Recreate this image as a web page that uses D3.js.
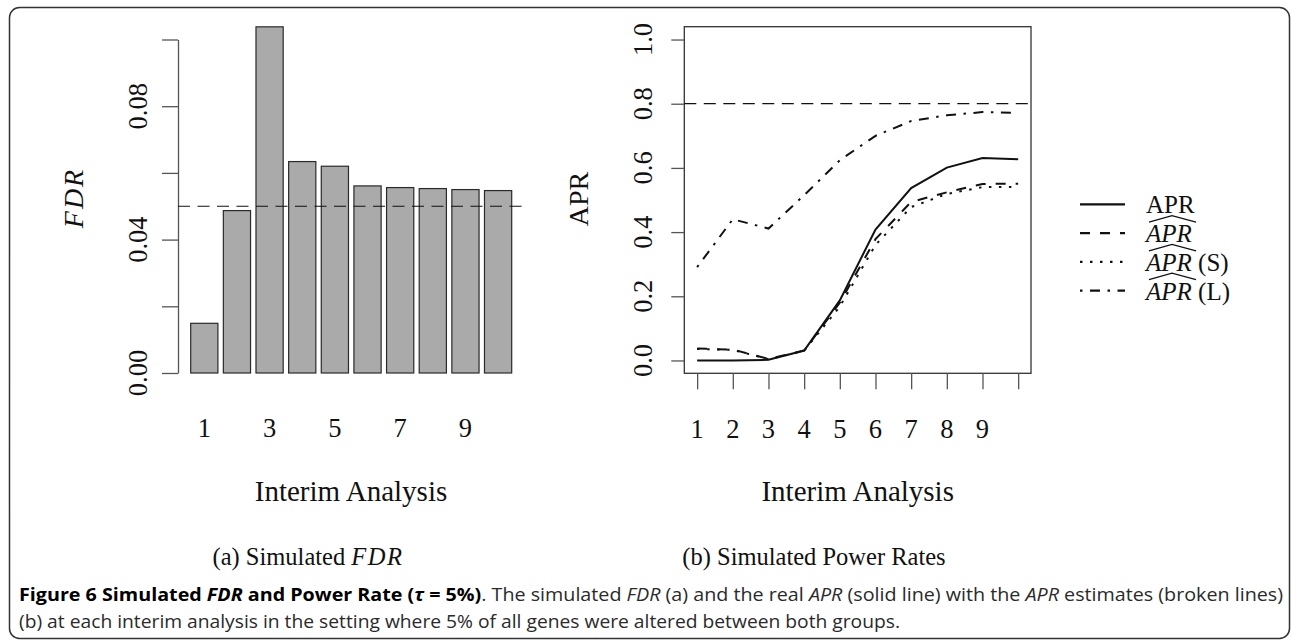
<!DOCTYPE html>
<html>
<head>
<meta charset="utf-8">
<script src="https://cdn.jsdelivr.net/npm/d3@7"></script>
<style>
    body { margin: 0; background: white; }
    svg { display: block; }
    .rtext { font-family: "Liberation Serif", "Times New Roman", serif; fill: #111; }
    .cap { font-family: "Open Sans", sans-serif; fill: #2a2a2a; font-size: 18.5px; }
</style>
</head>
<body>
<script>

    // data
    var interims = [1, 2, 3, 4, 5, 6, 7, 8, 9, 10];
    var fdr = [0.0149, 0.0487, 0.1038, 0.0634, 0.0620, 0.0561, 0.0556, 0.0553, 0.0550, 0.0547];
    var fdrTicks = [0, 0.02, 0.04, 0.06, 0.08, 0.10];
    var fdrTickLabels = ["0.00", "", "0.04", "", "0.08", ""];
    var fdrXLabels = ["1", "", "3", "", "5", "", "7", "", "9", ""];

    var aprReal = [0.000, 0.000, 0.002, 0.031, 0.187, 0.408, 0.537, 0.601, 0.631, 0.627];
    var aprHat  = [0.037, 0.034, 0.005, 0.031, 0.180, 0.378, 0.494, 0.524, 0.550, 0.551];
    var aprHatS = [0.036, 0.033, 0.004, 0.030, 0.168, 0.360, 0.478, 0.519, 0.540, 0.541];
    var aprHatL = [0.291, 0.440, 0.411, 0.515, 0.624, 0.700, 0.746, 0.764, 0.774, 0.771];
    var aprTicks = [0, 0.2, 0.4, 0.6, 0.8, 1.0];
    var aprXLabels = ["1", "2", "3", "4", "5", "6", "7", "8", "9", ""];

    var fdrTarget = 0.05, aprTarget = 0.8;

    var width = 1292, height = 640;

    var svg = d3.select("body").append("svg")
        .attr("width", width)
        .attr("height", height);

    // outer frame
    svg.append("rect")
        .attr("x", 9.5).attr("y", 7.5)
        .attr("width", 1280).attr("height", 631)
        .attr("rx", 10)
        .attr("fill", "none")
        .attr("stroke", "#333")
        .attr("stroke-width", 1.5);

    // ---------- (a) FDR bar chart ----------
    var xBar = d3.scaleBand().domain(interims).range([190.7, 511.7]).paddingInner(1 / 6).paddingOuter(0);
    var yFdr = d3.scaleLinear().domain([0, 0.1]).range([373, 39.5]);

    var gA = svg.append("g");

    gA.selectAll("rect.bar")
      .data(fdr)
      .enter().append("rect")
      .attr("class", "bar")
      .attr("x", (d, i) => xBar(interims[i]))
      .attr("width", xBar.bandwidth())
      .attr("y", d => yFdr(d))
      .attr("height", d => yFdr(0) - yFdr(d))
      .attr("fill", "#aaaaaa")
      .attr("stroke", "#2a2a2a")
      .attr("stroke-width", 1.2);

    var axA = gA.append("g")
        .attr("transform", "translate(178,0)")
        .call(d3.axisLeft(yFdr).tickValues(fdrTicks).tickSize(16).tickSizeOuter(0).tickFormat(""));
    axA.selectAll("path, line").attr("stroke", "#555").attr("stroke-width", 1.3);

    gA.selectAll("text.ytick")
      .data(fdrTicks)
      .enter().append("text")
      .attr("class", "rtext")
      .attr("transform", d => `translate(147,${yFdr(d)}) rotate(-90)`)
      .attr("text-anchor", "middle")
      .style("font-size", "26.5px")
      .text((d, i) => fdrTickLabels[i]);

    gA.selectAll("text.xtick")
      .data(interims)
      .enter().append("text")
      .attr("class", "rtext")
      .attr("x", d => xBar(d) + xBar.bandwidth() / 2)
      .attr("y", 437)
      .attr("text-anchor", "middle")
      .style("font-size", "26.5px")
      .text((d, i) => fdrXLabels[i]);

    gA.append("line")
      .attr("x1", 178).attr("x2", 524.5)
      .attr("y1", yFdr(fdrTarget)).attr("y2", yFdr(fdrTarget))
      .attr("stroke", "#111").attr("stroke-width", 1.2)
      .attr("stroke-dasharray", "12,7.5");

    gA.append("text")
      .attr("class", "rtext")
      .attr("transform", "translate(83,198) rotate(-90)")
      .attr("text-anchor", "middle")
      .style("font-size", "28px").style("font-style", "italic").style("letter-spacing", "2px")
      .text("FDR");

    gA.append("text")
      .attr("class", "rtext")
      .attr("x", 351).attr("y", 500.5)
      .attr("text-anchor", "middle")
      .style("font-size", "29px")
      .text("Interim Analysis");

    var subA = gA.append("text")
      .attr("class", "rtext")
      .attr("x", 308).attr("y", 565)
      .attr("text-anchor", "middle")
      .style("font-size", "24.5px");
    subA.append("tspan").text("(a) Simulated ");
    subA.append("tspan").style("font-style", "italic").style("letter-spacing", "1.5px").text("FDR");

    // ---------- (b) power rates ----------
    var xApr = d3.scaleLinear().domain([0.64, 10.36]).range([684.3, 1031]);
    var yApr = d3.scaleLinear().domain([-0.04, 1.04]).range([373.3, 26.7]);

    var gB = svg.append("g");

    gB.append("rect")
      .attr("x", xApr.range()[0]).attr("y", yApr.range()[1])
      .attr("width", xApr.range()[1] - xApr.range()[0])
      .attr("height", yApr.range()[0] - yApr.range()[1])
      .attr("fill", "none").attr("stroke", "#333").attr("stroke-width", 1.3);

    var axBy = gB.append("g")
        .attr("transform", `translate(${xApr.range()[0]},0)`)
        .call(d3.axisLeft(yApr).tickValues(aprTicks).tickSize(13).tickSizeOuter(0).tickFormat(""));
    axBy.select("path").remove();
    axBy.selectAll("line").attr("stroke", "#555").attr("stroke-width", 1.3);

    var axBx = gB.append("g")
        .attr("transform", `translate(0,${yApr.range()[0]})`)
        .call(d3.axisBottom(xApr).tickValues(interims).tickSize(16).tickSizeOuter(0).tickFormat(""));
    axBx.select("path").remove();
    axBx.selectAll("line").attr("stroke", "#555").attr("stroke-width", 1.3);

    gB.selectAll("text.ytick")
      .data(aprTicks)
      .enter().append("text")
      .attr("class", "rtext")
      .attr("transform", d => `translate(652,${yApr(d)}) rotate(-90)`)
      .attr("text-anchor", "middle")
      .style("font-size", "26.5px")
      .text(d => d.toFixed(1));

    gB.selectAll("text.xtick")
      .data(interims)
      .enter().append("text")
      .attr("class", "rtext")
      .attr("x", d => xApr(d))
      .attr("y", 437.5)
      .attr("text-anchor", "middle")
      .style("font-size", "26.5px")
      .text((d, i) => aprXLabels[i]);

    gB.append("line")
      .attr("x1", xApr.range()[0]).attr("x2", xApr.range()[1])
      .attr("y1", yApr(aprTarget)).attr("y2", yApr(aprTarget))
      .attr("stroke", "#111").attr("stroke-width", 1.2)
      .attr("stroke-dasharray", "12,7.5");

    var series = [
      { name: "APR",  values: aprReal, dash: null,             hat: false, suffix: "" },
      { name: "APR",  values: aprHat,  dash: "10,10",          hat: true,  suffix: "" },
      { name: "APR",  values: aprHatS, dash: "2.5,7.5",        hat: true,  suffix: " (S)" },
      { name: "APR",  values: aprHatL, dash: "2.5,7.5,10,7.5", hat: true,  suffix: " (L)" }
    ];

    var line = d3.line()
        .x((d, i) => xApr(interims[i]))
        .y(d => yApr(d));

    gB.selectAll("path.series")
      .data(series)
      .enter().append("path")
      .attr("class", "series")
      .attr("d", d => line(d.values))
      .attr("fill", "none")
      .attr("stroke", "#111")
      .attr("stroke-width", 2)
      .attr("stroke-dasharray", d => d.dash);

    gB.append("text")
      .attr("class", "rtext")
      .attr("transform", "translate(588,199) rotate(-90)")
      .attr("text-anchor", "middle")
      .style("font-size", "28px")
      .text("APR");

    gB.append("text")
      .attr("class", "rtext")
      .attr("x", 857.7).attr("y", 500.5)
      .attr("text-anchor", "middle")
      .style("font-size", "29px")
      .text("Interim Analysis");

    gB.append("text")
      .attr("class", "rtext")
      .attr("x", 814).attr("y", 565)
      .attr("text-anchor", "middle")
      .style("font-size", "24.5px")
      .text("(b) Simulated Power Rates");

    // legend
    var leg = gB.append("g");
    var legRows = leg.selectAll("g.row")
      .data(series)
      .enter().append("g")
      .attr("transform", (d, i) => `translate(0,${204.3 + i * 28.8})`);

    legRows.append("line")
      .attr("x1", 1080).attr("x2", 1125)
      .attr("stroke", "#111").attr("stroke-width", 2.2)
      .attr("stroke-dasharray", d => d.dash);

    var legText = legRows.append("text")
      .attr("class", "rtext")
      .attr("x", 1146).attr("y", 9)
      .style("font-size", "25px");
    legText.append("tspan")
      .style("font-style", d => d.hat ? "italic" : "normal")
      .text(d => d.name);
    legText.append("tspan").text(d => d.suffix);

    legRows.filter(d => d.hat).append("path")
      .attr("d", "M1149,-11 L1172,-17.5 L1196,-11")
      .attr("fill", "none")
      .attr("stroke", "#111")
      .attr("stroke-width", 1.2);

    // ---------- caption ----------
    var cap1 = svg.append("text")
      .attr("class", "cap")
      .attr("x", 19).attr("y", 601)
      .attr("textLength", 1264)
      .attr("lengthAdjust", "spacingAndGlyphs");
    cap1.append("tspan").style("font-weight", "bold").style("fill", "#000").text("Figure 6 Simulated ");
    cap1.append("tspan").style("font-weight", "bold").style("font-style", "italic").style("fill", "#000").text("FDR");
    cap1.append("tspan").style("font-weight", "bold").style("fill", "#000").text(" and Power Rate (");
    cap1.append("tspan").style("font-weight", "bold").style("font-style", "italic").style("fill", "#000").text("τ");
    cap1.append("tspan").style("font-weight", "bold").style("fill", "#000").text(" = 5%)");
    cap1.append("tspan").text(". The simulated ");
    cap1.append("tspan").style("font-style", "italic").text("FDR");
    cap1.append("tspan").text(" (a) and the real ");
    cap1.append("tspan").style("font-style", "italic").text("APR");
    cap1.append("tspan").text(" (solid line) with the ");
    cap1.append("tspan").style("font-style", "italic").text("APR");
    cap1.append("tspan").text(" estimates (broken lines)");

    svg.append("text")
      .attr("class", "cap")
      .attr("x", 19).attr("y", 628)
      .attr("textLength", 881)
      .attr("lengthAdjust", "spacingAndGlyphs")
      .text("(b) at each interim analysis in the setting where 5% of all genes were altered between both groups.");

</script>
</body>
</html>
